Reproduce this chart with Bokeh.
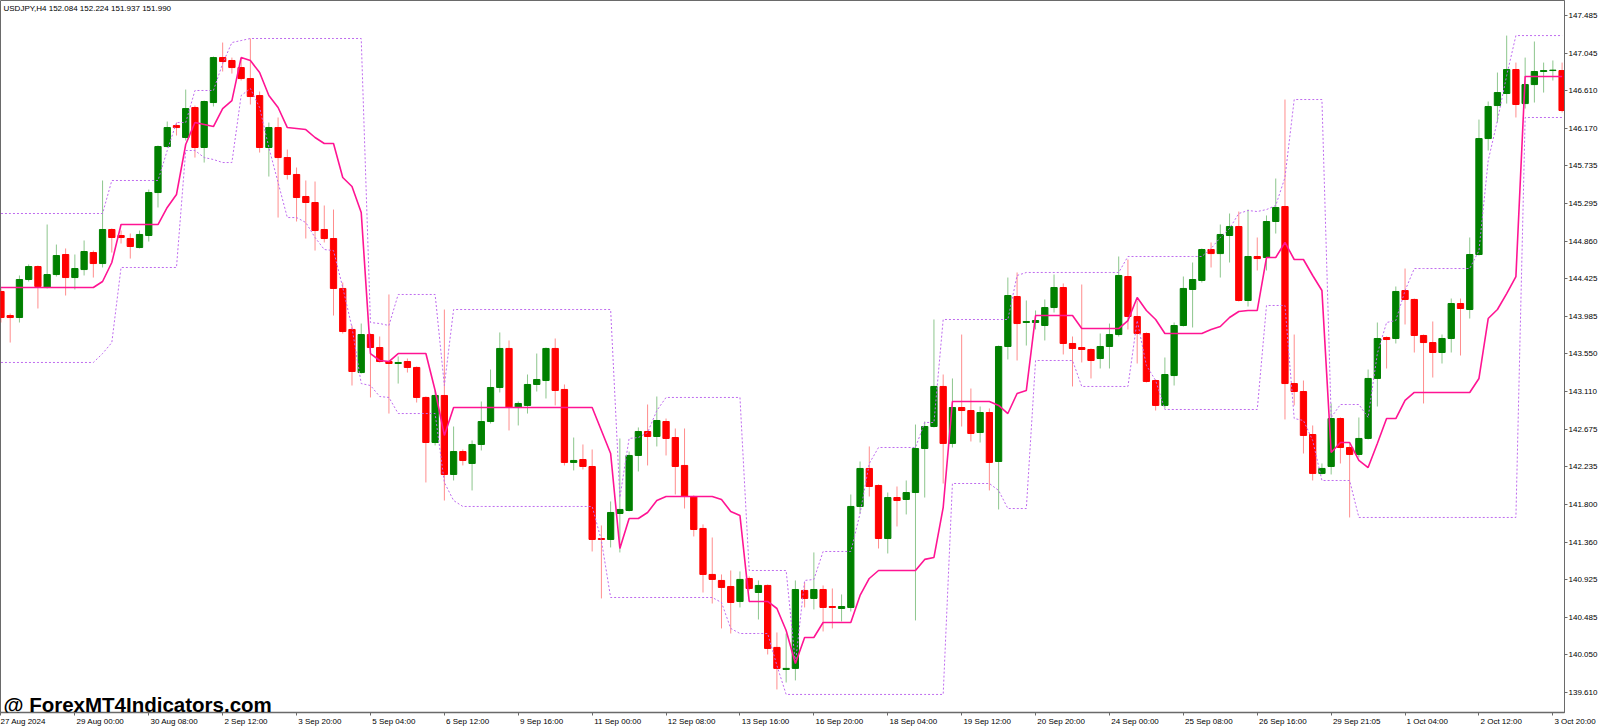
from bokeh.plotting import figure
from bokeh.models import Range1d, FixedTicker, NumeralTickFormatter, Label, ColumnDataSource
from bokeh.embed import file_html
from bokeh.resources import INLINE

chart_title = "USDJPY,H4  152.084 152.224 151.937 151.990"
watermark = "@ ForexMT4Indicators.com"

open_ = [
 144.275, 143.995, 143.972, 144.414, 144.565, 144.321, 144.472, 144.705, 144.437, 144.530,
 144.728, 144.600, 144.996, 144.926, 144.891, 144.786, 144.926, 145.426, 145.961, 146.205,
 146.066, 146.415, 145.950, 146.473, 146.996, 146.962, 146.880, 146.752, 146.554, 145.950,
 146.182, 145.833, 145.636, 145.380, 145.310, 144.996, 144.891, 144.310, 143.833, 143.332,
 143.774, 143.623, 143.460, 143.437, 143.460, 143.391, 143.042, 142.518, 143.065, 142.146,
 142.413, 142.274, 142.495, 142.762, 143.158, 143.612, 142.925, 142.949, 143.193, 143.239,
 143.612, 143.135, 142.286, 142.320, 142.239, 141.401, 141.390, 141.692, 141.727, 142.367,
 142.646, 142.588, 142.762, 142.576, 142.251, 141.890, 141.518, 140.983, 140.913, 140.843,
 140.669, 140.936, 140.773, 140.855, 140.134, 139.878, 139.890, 140.797, 140.704, 140.808,
 140.610, 140.587, 140.599, 141.774, 142.216, 142.018, 141.401, 141.878, 141.855, 141.936,
 142.448, 142.704, 143.170, 142.507, 142.925, 142.890, 142.634, 142.867, 142.297, 143.635,
 144.216, 143.914, 143.914, 143.879, 144.088, 144.321, 143.670, 143.623, 143.600, 143.495,
 143.635, 143.774, 144.449, 143.984, 143.786, 143.239, 142.949, 143.297, 143.879, 144.298,
 144.403, 144.763, 144.716, 144.926, 145.031, 144.170, 144.682, 144.670, 145.089, 145.263,
 143.204, 143.111, 142.611, 142.158, 142.239, 142.797, 142.460, 142.379, 142.565, 143.263,
 143.739, 143.728, 144.286, 144.182, 143.763, 143.681, 143.565, 143.728, 144.135, 144.065,
 144.705, 146.054, 146.438, 146.578, 146.857, 146.461, 146.682, 146.834, 146.845, 146.845,
]

high_ = [
 144.310, 144.019, 144.461, 144.589, 144.577, 145.054, 144.821, 144.775, 144.705, 144.868,
 144.751, 145.566, 145.008, 144.984, 144.949, 144.984, 145.461, 145.973, 146.252, 146.240,
 146.624, 146.438, 146.496, 147.008, 147.171, 146.996, 146.985, 147.218, 146.601, 146.240,
 146.299, 145.926, 145.717, 145.566, 145.554, 145.275, 145.228, 144.379, 143.879, 143.902,
 143.786, 143.751, 144.240, 143.519, 143.495, 143.402, 143.053, 143.123, 144.065, 142.704,
 142.437, 142.542, 142.995, 143.367, 143.798, 143.705, 142.995, 143.309, 143.553, 143.623,
 143.728, 143.193, 142.576, 142.495, 142.437, 141.553, 141.832, 142.565, 142.413, 142.693,
 142.960, 143.053, 142.797, 142.681, 142.681, 141.902, 141.565, 141.413, 140.983, 141.029,
 141.018, 140.959, 140.913, 140.866, 140.308, 140.296, 140.913, 140.890, 141.239, 140.855,
 140.820, 140.750, 141.913, 142.297, 142.472, 142.030, 141.936, 142.006, 142.076, 142.727,
 142.762, 143.949, 143.309, 143.263, 143.774, 143.146, 142.937, 142.914, 143.646, 144.437,
 144.496, 144.170, 144.054, 144.182, 144.472, 144.368, 143.751, 144.356, 143.612, 143.786,
 143.902, 144.682, 144.647, 144.170, 143.798, 143.251, 143.507, 143.914, 144.449, 144.612,
 144.775, 144.845, 145.054, 145.182, 145.205, 145.228, 144.903, 145.159, 145.589, 146.508,
 143.774, 143.239, 142.716, 142.274, 142.972, 142.809, 142.518, 142.809, 143.367, 143.914,
 143.751, 144.333, 144.542, 144.193, 143.774, 143.926, 143.774, 144.193, 144.193, 144.903,
 146.275, 146.485, 146.822, 147.252, 146.938, 146.996, 147.183, 146.938, 146.962, 146.938,
]

low_ = [
 143.914, 143.681, 143.914, 144.391, 144.077, 144.310, 144.449, 144.228, 144.298, 144.461,
 144.437, 144.554, 144.728, 144.833, 144.658, 144.775, 144.856, 145.252, 145.950, 146.089,
 146.031, 145.833, 145.775, 146.427, 146.834, 146.810, 146.729, 146.450, 145.891, 145.612,
 145.135, 145.577, 145.089, 144.891, 144.751, 144.845, 143.995, 143.786, 143.181, 143.321,
 143.042, 143.449, 142.855, 143.204, 143.332, 142.983, 142.053, 142.484, 141.843, 142.076,
 142.251, 141.960, 142.425, 142.739, 143.100, 142.658, 142.716, 142.855, 143.111, 143.030,
 142.949, 142.251, 142.193, 142.204, 141.250, 140.704, 141.297, 141.239, 141.716, 142.181,
 142.251, 142.472, 142.367, 141.913, 141.750, 141.425, 140.773, 140.645, 140.355, 140.296,
 140.599, 140.797, 140.459, 140.052, 139.645, 139.726, 139.750, 140.599, 140.576, 140.320,
 140.355, 140.436, 140.552, 141.692, 141.890, 141.285, 141.227, 141.541, 141.681, 140.448,
 141.878, 142.693, 142.041, 142.460, 142.704, 142.530, 142.518, 141.960, 141.739, 143.484,
 143.472, 143.646, 143.833, 143.705, 144.030, 143.542, 143.170, 143.449, 143.263, 143.379,
 143.379, 143.751, 143.833, 143.437, 143.216, 142.890, 142.914, 143.181, 143.867, 143.856,
 144.379, 144.554, 144.437, 144.612, 144.158, 144.100, 144.519, 144.519, 144.949, 142.786,
 142.949, 142.390, 142.076, 142.146, 142.146, 142.274, 141.646, 142.344, 142.553, 142.937,
 143.379, 143.670, 143.891, 143.565, 142.972, 143.274, 143.437, 143.565, 143.530, 143.960,
 144.693, 145.915, 146.240, 146.461, 146.299, 146.403, 146.473, 146.589, 146.729, 146.357,
]

close_ = [
 143.972, 143.972, 144.414, 144.565, 144.333, 144.472, 144.693, 144.437, 144.542, 144.740,
 144.600, 144.996, 144.903, 144.903, 144.798, 144.938, 145.426, 145.961, 146.182, 146.182,
 146.403, 145.950, 146.485, 146.996, 146.950, 146.880, 146.752, 146.543, 145.950, 146.182,
 145.833, 145.636, 145.368, 145.310, 144.984, 144.891, 144.310, 143.809, 143.344, 143.774,
 143.623, 143.460, 143.437, 143.449, 143.391, 143.042, 142.518, 143.065, 142.146, 142.413,
 142.309, 142.495, 142.762, 143.158, 143.612, 142.925, 142.972, 143.193, 143.251, 143.612,
 143.123, 142.286, 142.309, 142.239, 141.390, 141.390, 141.704, 141.739, 142.367, 142.646,
 142.588, 142.774, 142.565, 142.239, 141.890, 141.506, 140.983, 140.925, 140.832, 140.657,
 140.925, 140.820, 140.855, 140.122, 139.890, 139.890, 140.808, 140.704, 140.808, 140.599,
 140.599, 140.610, 141.774, 142.216, 142.006, 141.401, 141.878, 141.843, 141.936, 142.448,
 142.704, 143.170, 142.507, 142.925, 142.890, 142.623, 142.867, 142.286, 143.635, 144.228,
 143.902, 143.926, 143.937, 144.088, 144.321, 143.670, 143.612, 143.600, 143.472, 143.635,
 143.774, 144.461, 143.984, 143.786, 143.228, 142.949, 143.309, 143.879, 144.310, 144.414,
 144.763, 144.716, 144.938, 145.031, 144.170, 144.682, 144.658, 145.089, 145.252, 143.204,
 143.111, 142.600, 142.158, 142.216, 142.797, 142.460, 142.379, 142.565, 143.263, 143.728,
 143.716, 144.275, 144.182, 143.763, 143.681, 143.565, 143.728, 144.135, 144.077, 144.705,
 146.054, 146.427, 146.589, 146.857, 146.450, 146.682, 146.834, 146.845, 146.850, 146.380,
]

# solid magenta middle line of the indicator
mid_line = [
 144.321, 144.321, 144.321, 144.321, 144.321, 144.321, 144.321, 144.321, 144.321, 144.321,
 144.321, 144.391, 144.612, 145.054, 145.054, 145.054, 145.054, 145.054, 145.252, 145.403,
 145.985, 146.240, 146.217, 146.194, 146.403, 146.496, 146.996, 146.962, 146.822, 146.554,
 146.415, 146.182, 146.171, 146.159, 146.066, 145.996, 145.996, 145.601, 145.496, 145.194,
 143.553, 143.472, 143.460, 143.553, 143.553, 143.553, 143.553, 143.123, 142.600, 142.925,
 142.925, 142.925, 142.925, 142.925, 142.925, 142.925, 142.925, 142.925, 142.925, 142.925,
 142.925, 142.925, 142.925, 142.925, 142.925, 142.658, 142.390, 141.285, 141.634, 141.634,
 141.704, 141.843, 141.890, 141.890, 141.890, 141.890, 141.890, 141.890, 141.855, 141.716,
 141.669, 140.669, 140.669, 140.669, 140.587, 140.331, 139.948, 140.250, 140.250, 140.424,
 140.424, 140.424, 140.424, 140.739, 140.936, 141.029, 141.029, 141.029, 141.029, 141.029,
 141.158, 141.181, 141.762, 142.995, 142.995, 142.995, 142.995, 142.995, 142.949, 142.855,
 143.088, 143.123, 143.995, 143.995, 143.995, 143.995, 143.995, 143.844, 143.844, 143.844,
 143.844, 143.844, 143.937, 144.205, 144.054, 143.949, 143.786, 143.786, 143.786, 143.786,
 143.786, 143.833, 143.867, 143.972, 144.042, 144.054, 144.054, 144.670, 144.670, 144.845,
 144.647, 144.647, 144.461, 144.286, 142.402, 142.518, 142.518, 142.309, 142.227, 142.507,
 142.797, 142.797, 143.007, 143.100, 143.100, 143.100, 143.100, 143.100, 143.100, 143.100,
 143.263, 143.960, 144.065, 144.251, 144.449, 146.775, 146.775, 146.775, 146.775, 146.775,
]

# dotted violet upper channel
upper_band = [
 145.182, 145.182, 145.182, 145.182, 145.182, 145.182, 145.182, 145.182, 145.182, 145.182,
 145.182, 145.182, 145.566, 145.566, 145.566, 145.566, 145.566, 145.566, 145.915, 146.240,
 146.240, 146.613, 146.613, 146.613, 146.927, 147.171, 147.194, 147.218, 147.218, 147.218,
 147.218, 147.218, 147.218, 147.218, 147.218, 147.218, 147.218, 147.218, 147.218, 147.218,
 143.914, 143.902, 143.879, 144.240, 144.240, 144.240, 144.240, 144.240, 143.181, 144.065,
 144.065, 144.065, 144.065, 144.065, 144.065, 144.065, 144.065, 144.065, 144.065, 144.065,
 144.065, 144.065, 144.065, 144.065, 144.065, 144.065, 144.065, 141.878, 142.565, 142.576,
 142.634, 142.890, 143.042, 143.042, 143.042, 143.042, 143.042, 143.042, 143.042, 143.042,
 143.042, 141.029, 141.029, 141.029, 141.029, 141.029, 139.948, 140.913, 140.925, 141.250,
 141.250, 141.250, 141.250, 141.692, 142.274, 142.460, 142.460, 142.460, 142.460, 142.460,
 142.751, 142.751, 143.949, 143.949, 143.949, 143.949, 143.949, 143.949, 143.949, 143.949,
 144.461, 144.496, 144.496, 144.496, 144.496, 144.496, 144.496, 144.496, 144.496, 144.496,
 144.496, 144.496, 144.682, 144.682, 144.682, 144.682, 144.682, 144.682, 144.682, 144.682,
 144.682, 144.775, 144.903, 145.008, 145.182, 145.217, 145.205, 145.228, 145.275, 145.601,
 146.508, 146.508, 146.508, 146.508, 142.809, 142.960, 142.960, 142.960, 142.809, 143.553,
 143.914, 143.937, 144.286, 144.542, 144.542, 144.542, 144.542, 144.542, 144.542, 144.542,
 144.751, 145.798, 146.264, 146.787, 147.252, 147.252, 147.252, 147.252, 147.252, 147.252,
]

# dotted violet lower channel
lower_band = [
 143.449, 143.449, 143.449, 143.449, 143.449, 143.449, 143.449, 143.449, 143.449, 143.449,
 143.449, 143.553, 143.681, 144.554, 144.554, 144.554, 144.554, 144.554, 144.554, 144.554,
 145.915, 145.915, 145.833, 145.810, 145.775, 145.775, 146.554, 146.636, 146.415, 145.950,
 145.542, 145.135, 145.135, 145.077, 144.903, 144.763, 144.751, 144.321, 143.856, 143.204,
 143.181, 143.053, 143.042, 142.855, 142.855, 142.855, 142.855, 142.855, 142.053, 141.843,
 141.774, 141.774, 141.774, 141.774, 141.774, 141.774, 141.774, 141.774, 141.774, 141.774,
 141.774, 141.774, 141.774, 141.774, 141.774, 141.378, 140.715, 140.715, 140.715, 140.715,
 140.715, 140.715, 140.715, 140.715, 140.715, 140.715, 140.715, 140.715, 140.657, 140.355,
 140.296, 140.296, 140.296, 140.296, 139.924, 139.587, 139.587, 139.587, 139.587, 139.587,
 139.587, 139.587, 139.587, 139.587, 139.587, 139.587, 139.587, 139.587, 139.587, 139.587,
 139.587, 139.587, 139.587, 142.041, 142.041, 142.041, 142.041, 142.041, 141.960, 141.750,
 141.750, 141.750, 143.472, 143.472, 143.472, 143.472, 143.472, 143.170, 143.170, 143.170,
 143.170, 143.170, 143.170, 143.937, 143.414, 143.239, 142.902, 142.902, 142.902, 142.902,
 142.902, 142.902, 142.902, 142.902, 142.902, 142.902, 142.902, 144.112, 144.112, 144.112,
 142.797, 142.774, 142.542, 142.076, 142.076, 142.076, 142.076, 141.646, 141.646, 141.646,
 141.646, 141.646, 141.646, 141.646, 141.646, 141.646, 141.646, 141.646, 141.646, 141.646,
 141.646, 141.646, 141.646, 141.646, 141.646, 146.299, 146.299, 146.299, 146.299, 146.299,
]

price_ticks = [147.485, 147.045, 146.610, 146.170, 145.735, 145.295, 144.860, 144.425,
               143.985, 143.550, 143.110, 142.675, 142.235, 141.800, 141.360, 140.925,
               140.485, 140.050, 139.610]

date_tick_bars = [0, 8, 16, 24, 32, 40, 48, 56, 64, 72, 80, 88, 96, 104, 112, 120,
                  128, 136, 144, 152, 160, 168]
date_tick_labels = ["27 Aug 2024", "29 Aug 00:00", "30 Aug 08:00", "2 Sep 12:00",
                    "3 Sep 20:00", "5 Sep 04:00", "6 Sep 12:00", "9 Sep 16:00",
                    "11 Sep 00:00", "12 Sep 08:00", "13 Sep 16:00", "16 Sep 20:00",
                    "18 Sep 04:00", "19 Sep 12:00", "20 Sep 20:00", "24 Sep 00:00",
                    "25 Sep 08:00", "26 Sep 16:00", "29 Sep 21:05", "1 Oct 04:00",
                    "2 Oct 12:00", "3 Oct 20:00"]

BULL = "#008000"
BEAR = "#ff0000"
MID_COLOR = "#ff1493"
BAND_COLOR = "#bf6bef"
AXIS_COLOR = "#6a6a6a"
FONT = "Liberation Sans"
LABEL_PX = 8.0

W, H = 1600, 728
BORDER_RIGHT, BORDER_BOTTOM = 34, 16
FRAME_H = H - BORDER_BOTTOM

# approximate advance widths (em) of Liberation Sans, used to anchor the
# time-axis texts at their left end the way the terminal draws them
CHAR_EM = {" ": 0.278, ":": 0.278, ".": 0.278, "A": 0.667, "u": 0.556, "g": 0.556,
           "S": 0.667, "e": 0.556, "p": 0.556, "O": 0.778, "c": 0.5, "t": 0.278}
NBSP = "\u00a0"


def left_anchored(text, size_px=LABEL_PX, gap_px=1.5):
    width = sum(CHAR_EM.get(ch, 0.556) for ch in text) * size_px
    pad = int(round((width + 2 * gap_px) / (0.278 * size_px)))
    return NBSP * pad + text


# the first text sits at the left edge (the renderer keeps it inside the canvas)
time_label_text = {b: (t if k == 0 else left_anchored(t))
                   for k, (b, t) in enumerate(zip(date_tick_bars, date_tick_labels))}

n = len(open_)
bars = list(range(n))
is_up = [c >= o for o, c in zip(open_, close_)]
src = ColumnDataSource(dict(
    x=bars,
    high=high_,
    low=low_,
    top=[max(o, c) for o, c in zip(open_, close_)],
    bottom=[min(o, c) for o, c in zip(open_, close_)],
    color=[BULL if u else BEAR for u in is_up],
))

p = figure(width=W, height=H,
           x_range=Range1d(-0.05, 169.26), y_range=Range1d(139.377, 147.66),
           y_axis_location="right", output_backend="svg", toolbar_location=None,
           min_border_left=0, min_border_top=0,
           min_border_right=BORDER_RIGHT, min_border_bottom=BORDER_BOTTOM)

p.background_fill_color = "white"
p.border_fill_color = "white"
p.outline_line_color = AXIS_COLOR
p.xgrid.visible = False
p.ygrid.visible = False

# candles
p.segment(x0="x", y0="low", x1="x", y1="high", line_color="color", line_alpha=0.45,
          line_width=1, source=src)
p.vbar(x="x", width=0.68, top="top", bottom="bottom", fill_color="color",
       line_color="color", line_width=1, source=src)

# indicator
p.line(bars, upper_band, line_color=BAND_COLOR, line_dash="2 2", line_width=1)
p.line(bars, lower_band, line_color=BAND_COLOR, line_dash="2 2", line_width=1)
p.line(bars, mid_line, line_color=MID_COLOR, line_width=1.6)

# price axis (right)
yax = p.yaxis[0]
yax.ticker = FixedTicker(ticks=price_ticks)
yax.formatter = NumeralTickFormatter(format="0.000")
yax.axis_line_color = AXIS_COLOR
yax.major_tick_line_color = AXIS_COLOR
yax.major_tick_out = 3
yax.major_tick_in = 0
yax.minor_tick_out = 0
yax.minor_tick_in = 0
yax.major_label_standoff = 1
yax.major_label_text_font = FONT
yax.major_label_text_font_size = f"{LABEL_PX}px"
yax.major_label_text_color = "black"

# time axis (bottom)
xax = p.xaxis[0]
xax.ticker = FixedTicker(ticks=date_tick_bars)
xax.major_label_overrides = time_label_text
xax.axis_line_color = AXIS_COLOR
xax.axis_line_width = 1.5
xax.major_tick_line_color = AXIS_COLOR
xax.major_tick_out = 3
xax.major_tick_in = 0
xax.minor_tick_out = 0
xax.minor_tick_in = 0
xax.major_label_standoff = 1
xax.major_label_text_font = FONT
xax.major_label_text_font_size = f"{LABEL_PX}px"
xax.major_label_text_color = "black"

# texts inside the chart
p.add_layout(Label(x=3, y=FRAME_H - 3, x_units="screen", y_units="screen", text=chart_title,
                   text_font=FONT, text_font_size=f"{LABEL_PX}px", text_color="black",
                   text_baseline="top"))
p.add_layout(Label(x=3, y=8, x_units="screen", y_units="screen", text=watermark,
                   text_font=FONT, text_font_style="bold", text_font_size="20.5px",
                   text_color="black", text_baseline="alphabetic"))

open("out.html", "w").write(file_html(p, INLINE))
